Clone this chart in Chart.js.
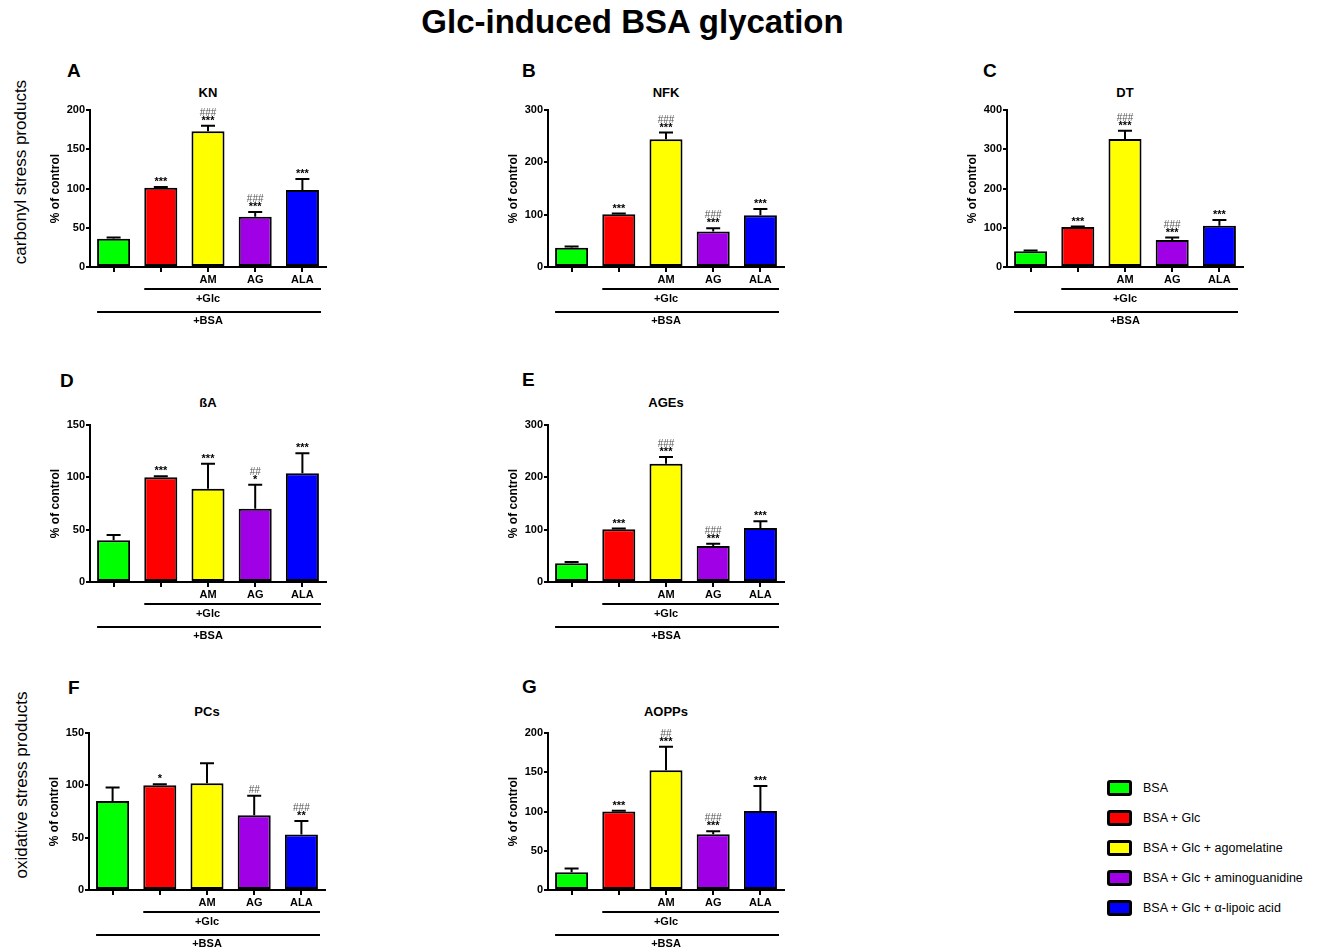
<!DOCTYPE html>
<html lang="en">
<head>
<meta charset="UTF-8">
<title>Glc-induced BSA glycation</title>
<script src="https://cdn.jsdelivr.net/npm/chart.js"></script>
<style>
  body { margin: 0; background: #fff; font-family: "Liberation Sans", Arial, sans-serif; }
  #page { position: relative; width: 1325px; height: 952px; overflow: hidden; }
  .abs { position: absolute; white-space: nowrap; }
  h1 { position: absolute; left: 0; width: 1265px; top: 0; margin: 0; text-align: center;
       font-size: 33px; line-height: 44px; font-weight: bold; }
  .letter { font-size: 19px; font-weight: bold; line-height: 20px; }
  .ptitle { font-size: 13px; font-weight: bold; line-height: 16px; text-align: center; width: 236px; }
  .row { font-size: 17px; line-height: 20px; transform: translate(-50%, -50%) rotate(-90deg); }
  .leg { font-size: 12.5px; line-height: 16px; }
  .leg span { position: absolute; left: 0; top: 0; width: 19px; height: 10px; border: 3px solid #000; border-radius: 3px; }
  .leg b { position: absolute; left: 36px; top: 0; font-weight: normal; }
</style>
</head>
<body>
<div id="page">
  <h1>Glc-induced BSA glycation</h1>
  <div class="abs row" style="left:21px; top:172px;">carbonyl stress products</div>
  <div class="abs row" style="left:22px; top:785px;">oxidative stress products</div>
</div>

<script>
  // groups and colours
  var groups = ['BSA', 'BSA + Glc', 'BSA + Glc + agomelatine', 'BSA + Glc + aminoguanidine', 'BSA + Glc + \u03B1-lipoic acid'];
  var tickNames = ['', '', 'AM', 'AG', 'ALA'];
  var groupLabels = ['+Glc', '+BSA'];
  var barColors = ['#00ff00', '#ff0000', '#ffff00', '#a000e6', '#0000ff'];

  // A - KN
  var knMean = [36, 101, 173, 64, 98];
  var knErr = [1.5, 1, 7, 6, 14];
  var knMarks = ['', '***', '###\n***', '###\n***', '***'];
  // B - NFK
  var nfkMean = [37, 101, 244, 68, 99];
  var nfkErr = [2, 1, 13, 6, 12];
  var nfkMarks = ['', '***', '###\n***', '###\n***', '***'];
  // C - DT
  var dtMean = [40, 102, 326, 69, 105];
  var dtErr = [2, 1, 21, 6, 15];
  var dtMarks = ['', '***', '###\n***', '###\n***', '***'];
  // D - ßA
  var baMean = [40, 100, 89, 70, 104];
  var baErr = [5, 1, 24, 23, 19];
  var baMarks = ['', '***', '***', '##\n*', '***'];
  // E - AGEs
  var agesMean = [36, 101, 226, 69, 103];
  var agesErr = [2, 1, 13, 4, 13];
  var agesMarks = ['', '***', '###\n***', '###\n***', '***'];
  // F - PCs
  var pcsMean = [85, 100, 102, 71.5, 53];
  var pcsErr = [13, 1, 19, 18.5, 13];
  var pcsMarks = ['', '*', '', '##', '###\n**'];
  // G - AOPPs
  var aoppsMean = [22.5, 100, 152.5, 71, 100.5];
  var aoppsErr = [5, 1, 30, 4, 32];
  var aoppsMarks = ['', '***', '##\n***', '###\n***', '***'];

  var panels = [
    { letter: 'A', title: 'KN',    mean: knMean,    err: knErr,    marks: knMarks,    max: 200, step: 50,  ax: 90,   top: 110, bottom: 267, lx: 67,  ly: 71,  ty: 93 },
    { letter: 'B', title: 'NFK',   mean: nfkMean,   err: nfkErr,   marks: nfkMarks,   max: 300, step: 100, ax: 548,  top: 110, bottom: 267, lx: 522, ly: 71,  ty: 93 },
    { letter: 'C', title: 'DT',    mean: dtMean,    err: dtErr,    marks: dtMarks,    max: 400, step: 100, ax: 1007, top: 110, bottom: 267, lx: 983, ly: 71,  ty: 93 },
    { letter: 'D', title: '\u00DFA', mean: baMean,  err: baErr,    marks: baMarks,    max: 150, step: 50,  ax: 90,   top: 425, bottom: 582, lx: 60,  ly: 381, ty: 403 },
    { letter: 'E', title: 'AGEs',  mean: agesMean,  err: agesErr,  marks: agesMarks,  max: 300, step: 100, ax: 548,  top: 425, bottom: 582, lx: 522, ly: 380, ty: 403 },
    { letter: 'F', title: 'PCs',   mean: pcsMean,   err: pcsErr,   marks: pcsMarks,   max: 150, step: 50,  ax: 89,   top: 733, bottom: 890, lx: 68,  ly: 688, ty: 712 },
    { letter: 'G', title: 'AOPPs', mean: aoppsMean, err: aoppsErr, marks: aoppsMarks, max: 200, step: 50,  ax: 548,  top: 733, bottom: 890, lx: 522, ly: 687, ty: 712 }
  ];

  var PLOT_W = 236, AXIS_W = 50, PAD_T = 12, PAD_R = 12, XAX_H = 20, PAD_B = 45;
  var FONT = '"Liberation Sans", Arial, sans-serif';

  // error bars (upper only), significance marks and the +Glc / +BSA lines
  var extrasPlugin = {
    id: 'extras',
    afterDatasetsDraw: function (chart) {
      var p = chart.options.plugins.extras;
      var ctx = chart.ctx, y = chart.scales.y;
      var meta = chart.getDatasetMeta(0);
      ctx.save();
      ctx.strokeStyle = '#000';
      ctx.lineWidth = 2;
      meta.data.forEach(function (bar, i) {
        var yTop = y.getPixelForValue(p.mean[i] + p.err[i]);
        ctx.beginPath();
        ctx.moveTo(bar.x, bar.y);
        ctx.lineTo(bar.x, yTop);
        ctx.moveTo(bar.x - 7, yTop);
        ctx.lineTo(bar.x + 7, yTop);
        ctx.stroke();

        if (!p.marks[i]) return;
        // stack lines upward from the cap
        var lines = p.marks[i].split('\n').reverse();
        var topY = yTop - 3;
        ctx.textAlign = 'center';
        ctx.textBaseline = 'alphabetic';
        lines.forEach(function (txt) {
          var hash = txt.indexOf('#') >= 0;
          var base;
          if (hash) {
            ctx.font = 'normal 10px ' + FONT;
            ctx.fillStyle = '#555';
            base = topY;
            topY = base - 8;
          } else {
            ctx.font = 'bold 11px ' + FONT;
            ctx.fillStyle = '#000';
            base = topY + 1;
            topY = base - 8;
          }
          ctx.fillText(txt, bar.x, base);
        });
      });
      ctx.restore();
    },
    afterDraw: function (chart) {
      var ctx = chart.ctx, ca = chart.chartArea;
      var meta = chart.getDatasetMeta(0);
      var b1 = meta.data[0], b2 = meta.data[1], b3 = meta.data[2];
      var right = ca.right - 5;
      ctx.save();
      ctx.strokeStyle = '#000';
      ctx.fillStyle = '#000';
      ctx.lineWidth = 2;
      ctx.beginPath();
      ctx.moveTo(b2.x - b2.width / 2, ca.bottom + 22);
      ctx.lineTo(right, ca.bottom + 22);
      ctx.moveTo(b1.x - b1.width / 2, ca.bottom + 45);
      ctx.lineTo(right, ca.bottom + 45);
      ctx.stroke();
      ctx.font = 'bold 11px ' + FONT;
      ctx.textAlign = 'center';
      ctx.textBaseline = 'middle';
      ctx.fillText(groupLabels[0], b3.x, ca.bottom + 32);
      ctx.fillText(groupLabels[1], b3.x, ca.bottom + 54);
      ctx.restore();
    }
  };

  var page = document.getElementById('page');

  panels.forEach(function (p) {
    var letter = document.createElement('div');
    letter.className = 'abs letter';
    letter.style.left = p.lx + 'px';
    letter.style.top = (p.ly - 10) + 'px';
    letter.textContent = p.letter;
    page.appendChild(letter);

    var title = document.createElement('div');
    title.className = 'abs ptitle';
    title.style.left = p.ax + 'px';
    title.style.top = (p.ty - 8) + 'px';
    title.textContent = p.title;
    page.appendChild(title);

    var w = AXIS_W + PLOT_W + PAD_R;
    var h = PAD_T + (p.bottom - p.top) + XAX_H + PAD_B;
    var cv = document.createElement('canvas');
    cv.width = w; cv.height = h;
    cv.className = 'abs';
    cv.style.left = (p.ax - AXIS_W) + 'px';
    cv.style.top = (p.top - PAD_T) + 'px';
    cv.style.width = w + 'px';
    cv.style.height = h + 'px';
    page.appendChild(cv);

    new Chart(cv.getContext('2d'), {
      type: 'bar',
      data: {
        labels: tickNames,
        datasets: [{
          label: p.title,
          data: p.mean,
          backgroundColor: barColors,
          borderColor: '#000',
          borderWidth: 2,
          borderSkipped: false,
          barPercentage: 0.7,
          categoryPercentage: 1
        }]
      },
      options: {
        responsive: false,
        animation: false,
        devicePixelRatio: 1,
        layout: { padding: { left: 0, right: PAD_R, top: PAD_T, bottom: PAD_B } },
        plugins: {
          legend: { display: false },
          tooltip: { enabled: false },
          extras: { mean: p.mean, err: p.err, marks: p.marks }
        },
        scales: {
          x: {
            afterFit: function (s) { s.height = XAX_H; },
            grid: { display: true, drawOnChartArea: false, offset: false, tickLength: 5, color: '#000', lineWidth: 2 },
            border: { display: true, color: '#000', width: 2 },
            ticks: { color: '#000', font: { family: FONT, size: 11, weight: 'bold' }, padding: 1, maxRotation: 0, autoSkip: false }
          },
          y: {
            min: 0,
            max: p.max,
            afterFit: function (s) { s.width = AXIS_W; },
            grid: { display: true, drawOnChartArea: false, tickLength: 4, color: '#000', lineWidth: 2 },
            border: { display: true, color: '#000', width: 2 },
            ticks: { stepSize: p.step, color: '#000', font: { family: FONT, size: 11, weight: 'bold' }, padding: 1 },
            title: { display: true, text: '% of control', color: '#000', font: { family: FONT, size: 12, weight: 'bold' }, padding: { top: 8, bottom: 0 } }
          }
        }
      },
      plugins: [extrasPlugin]
    });
  });

  // legend
  groups.forEach(function (g, i) {
    var row = document.createElement('div');
    row.className = 'abs leg';
    row.style.left = '1107px';
    row.style.top = (780 + i * 30) + 'px';
    var box = document.createElement('span');
    box.style.background = barColors[i];
    var txt = document.createElement('b');
    txt.textContent = g;
    row.appendChild(box);
    row.appendChild(txt);
    page.appendChild(row);
  });
</script>
</body>
</html>
